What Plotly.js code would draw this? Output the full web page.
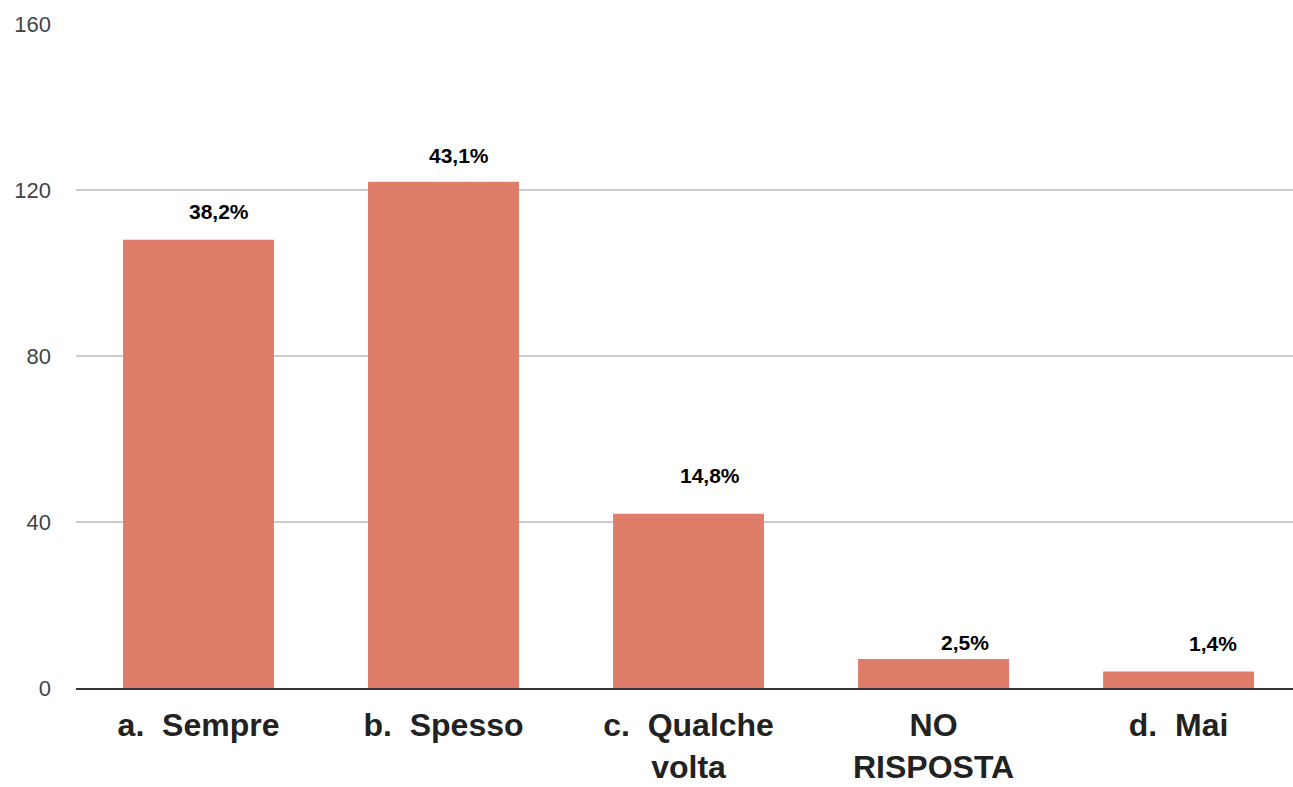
<!DOCTYPE html>
<html>
<head>
<meta charset="utf-8">
<script src="https://cdn.plot.ly/plotly-3.0.1.min.js"></script>
<style>html,body{margin:0;padding:0;background:#fff;}#chart{width:1293px;height:787px;}</style>
</head>
<body>
<div id="chart"></div>
<script>
const categories = ['a.  Sempre', 'b.  Spesso', 'c.  Qualche<br>volta', 'NO<br>RISPOSTA', 'd.  Mai'];
const counts = [108, 122, 42, 7, 4];
const percentLabels = ['38,2%', '43,1%', '14,8%', '2,5%', '1,4%'];
const yTicks = [0, 40, 80, 120, 160];

// label placement style (pixel shifts relative to bar top centre)
const labelShiftX = [20, 15, 21, 31, 34];
const labelShiftY = [28, 26, 38, 16, 28];

const trace = {
  type: 'bar',
  x: categories,
  y: counts,
  marker: {color: '#de7d6a'},
  hoverinfo: 'none'
};

const annotations = categories.map((c, i) => ({
  x: c, y: counts[i], xref: 'x', yref: 'y',
  text: '<b>' + percentLabels[i] + '</b>',
  showarrow: false,
  xshift: labelShiftX[i], yshift: labelShiftY[i],
  font: {family: 'Liberation Sans, Arial, sans-serif', size: 21, color: '#000'}
}));

const layout = {
  width: 1293, height: 787,
  margin: {l: 76, r: 0, t: 24, b: 99},
  paper_bgcolor: '#fff', plot_bgcolor: '#fff',
  bargap: 0.384,
  showlegend: false,
  xaxis: {
    type: 'category',
    range: [-0.5, 4.467],
    showgrid: false,
    showline: true, linecolor: '#333', linewidth: 2,
    ticks: '',
    tickfont: {family: 'Liberation Sans, Arial, sans-serif', size: 32, color: '#222', weight: 'bold'},
    ticklabelstandoff: 8,
    fixedrange: true
  },
  yaxis: {
    range: [0, 160],
    tickvals: yTicks,
    ticktext: yTicks.map(String),
    showgrid: true, gridcolor: '#cccccc', gridwidth: 1.5,
    zeroline: false, showline: false,
    ticks: '',
    tickfont: {family: 'Liberation Sans, Arial, sans-serif', size: 22, color: '#444'},
    ticklabelstandoff: 24,
    fixedrange: true
  },
  annotations: annotations
};

Plotly.newPlot('chart', [trace], layout, {displayModeBar: false, staticPlot: true});
</script>
</body>
</html>
